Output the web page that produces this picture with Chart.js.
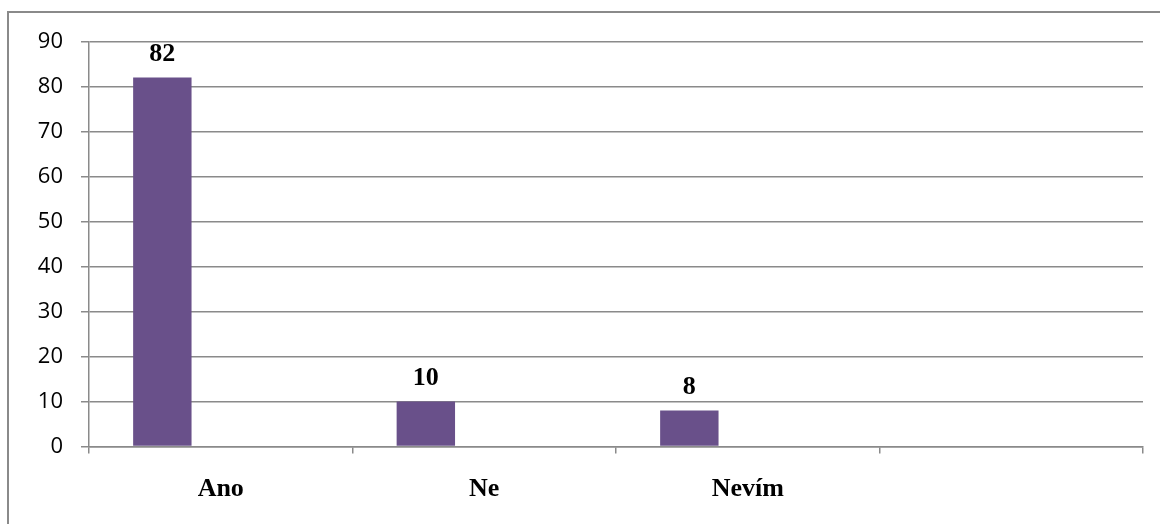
<!DOCTYPE html>
<html>
<head>
<meta charset="utf-8">
<script src="https://cdn.jsdelivr.net/npm/chart.js@4/dist/chart.umd.min.js"></script>
<style>
  html, body { margin: 0; padding: 0; background: #fff; overflow: hidden; }
  #frame {
    position: absolute; left: 7px; top: 11px;
    width: 1200px; height: 560px;
    border: 2px solid #8a8a8a;
  }
  #wrap { position: absolute; left: 0; top: 0; width: 1160px; height: 524px; }
</style>
</head>
<body>
<div id="frame"></div>
<div id="wrap"><canvas id="c" width="1160" height="524"></canvas></div>
<script>
// Answers and counts
const categories = ['Ano', 'Ne', 'Nevím', ''];
const seriesA = [82, 10, 8, null];
const seriesB = [null, null, null, null];
const seriesC = [null, null, null, null];
const yTicks = [0, 10, 20, 30, 40, 50, 60, 70, 80, 90];

const gridColor = '#8a8a8a';
const barColor = '#69508a';

// Value labels above bars of the first series
const valueLabels = {
  id: 'valueLabels',
  afterDatasetsDraw(chart) {
    const ctx = chart.ctx;
    const meta = chart.getDatasetMeta(0);
    ctx.save();
    ctx.font = 'bold 26px "Liberation Serif", "Times New Roman", serif';
    ctx.fillStyle = '#000';
    ctx.textAlign = 'center';
    ctx.textBaseline = 'alphabetic';
    meta.data.forEach((bar, i) => {
      const v = seriesA[i];
      if (v === null || v === undefined) return;
      ctx.fillText(String(v), bar.x, bar.y - 17);
    });
    ctx.restore();
  }
};

new Chart(document.getElementById('c'), {
  type: 'bar',
  data: {
    labels: categories,
    datasets: [
      { data: seriesA, backgroundColor: barColor },
      { data: seriesB, backgroundColor: barColor },
      { data: seriesC, backgroundColor: barColor }
    ]
  },
  options: {
    responsive: false,
    animation: false,
    devicePixelRatio: 1,
    layout: { padding: { top: 41.5, right: 17, left: 0, bottom: 0 } },
    datasets: { bar: { categoryPercentage: 0.665, barPercentage: 1 } },
    plugins: { legend: { display: false }, tooltip: { enabled: false } },
    scales: {
      x: {
        offset: true,
        grid: {
          offset: true,
          drawOnChartArea: false,
          drawTicks: true,
          tickLength: 7,
          color: gridColor,
          lineWidth: 1.5
        },
        border: { color: gridColor, width: 1.5 },
        ticks: {
          color: '#000',
          padding: 20,
          font: { family: '"Liberation Serif", "Times New Roman", serif', size: 26, weight: 'bold' }
        },
        afterFit(scale) { scale.height = 77.5; }
      },
      y: {
        min: 0,
        max: 90,
        afterBuildTicks(scale) { scale.ticks = yTicks.map(v => ({ value: v })); },
        grid: {
          color: gridColor,
          lineWidth: 1.5,
          tickLength: 8
        },
        border: { color: gridColor, width: 1.5 },
        ticks: {
          color: '#000',
          padding: 18,
          font: { family: '"Open Sans", sans-serif', size: 22 }
        },
        afterFit(scale) { scale.width = 89; }
      }
    }
  },
  plugins: [valueLabels]
});
</script>
</body>
</html>
